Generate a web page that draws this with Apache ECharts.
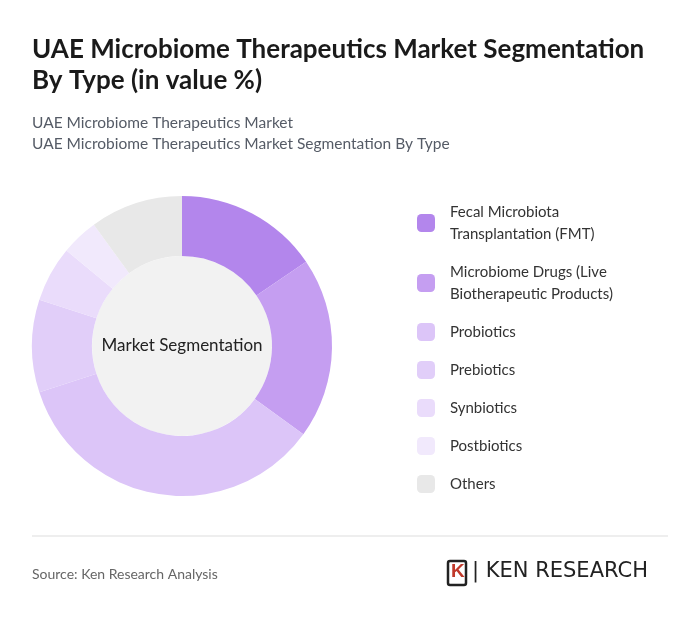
<!DOCTYPE html>
<html><head><meta charset="utf-8">
<script src="https://cdn.jsdelivr.net/npm/echarts@6/dist/echarts.min.js"></script>
<style>html,body{margin:0;padding:0;background:#fff}#c{width:700px;height:621px}</style>
</head><body><div id="c"></div>
<script>
const categories = ["Fecal Microbiota Transplantation (FMT)", "Microbiome Drugs (Live Biotherapeutic Products)", "Probiotics", "Prebiotics", "Synbiotics", "Postbiotics", "Others"];
const legendLabels = ["Fecal Microbiota\nTransplantation (FMT)", "Microbiome Drugs (Live\nBiotherapeutic Products)", "Probiotics", "Prebiotics", "Synbiotics", "Postbiotics", "Others"];
const values = [15.5, 19.5, 35, 10, 6, 4, 10];
const colors = ["#b386ec", "#c59ef1", "#dcc5f8", "#e1cef9", "#eadcfb", "#f1e9fc", "#e8e8e8"];
const chart = echarts.init(document.getElementById('c'));
const F = "Lato, 'Noto Sans', sans-serif";
chart.setOption({
  textStyle:{fontFamily:F},
  title:[
    {text:"UAE Microbiome Therapeutics Market Segmentation\nBy Type (in value %)", left:32, top:34, padding:0,
     textStyle:{fontFamily:F,fontSize:26,fontWeight:'bold',color:'#1a1a1a',lineHeight:31}},
    {text:"UAE Microbiome Therapeutics Market\nUAE Microbiome Therapeutics Market Segmentation By Type", left:32, top:112, padding:0,
     textStyle:{fontFamily:F,fontSize:15.5,fontWeight:'normal',color:'#555b66',lineHeight:21}},
    {text:"Source: Ken Research Analysis", left:32, top:567, padding:0, textStyle:{fontFamily:F,fontSize:14,fontWeight:'normal',color:'#666'}}
  ],
  legend:{orient:'vertical', left:417, top:201, padding:0, itemWidth:18, itemHeight:18, itemGap:16,
    icon:'roundRect',
    formatter:function(n){return legendLabels[categories.indexOf(n)];},
    textStyle:{fontFamily:F,fontSize:15,color:'#333',lineHeight:22, padding:[0,0,0,10]},
    data:categories},
  graphic:[
    {type:'circle', shape:{cx:182,cy:346,r:90}, style:{fill:'#f2f2f2'}, z:0},
    {type:'line', shape:{x1:32,y1:536,x2:668,y2:536}, style:{stroke:'#ddd',lineWidth:1}},
    {type:'rect', shape:{x:448,y:561,width:18,height:24,r:2}, style:{fill:'none',stroke:'#222',lineWidth:2.5}},
    {type:'text', left:451, top:562, style:{text:'K', fontSize:19, fontWeight:'bold', fill:'#c0392b'}},
    {type:'text', left:472, top:561, style:{text:'| KEN RESEARCH', fontSize:21, fontFamily:"'DejaVu Sans', sans-serif", fill:'#222'}}
  ],
  series:[{type:'pie', center:[182,346], radius:[90,150], startAngle:90, clockwise:true,
    label:{show:true, position:'center', formatter:'Market Segmentation', fontFamily:F, fontSize:17, color:'#222'},
    emphasis:{disabled:true}, labelLine:{show:false},
    itemStyle:{borderWidth:0},
    data:categories.map((c,i)=>({name:c, value:values[i], itemStyle:{color:colors[i]}})),
    silent:true}]
});
</script></body></html>
